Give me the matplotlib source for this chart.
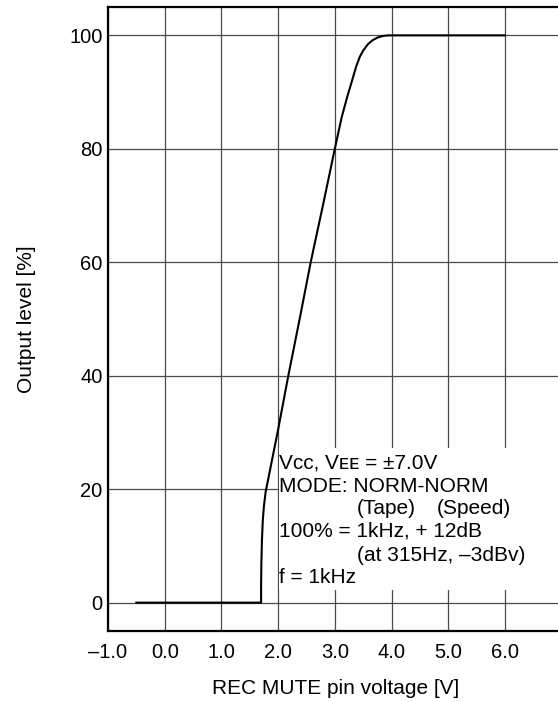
import matplotlib
matplotlib.use("Agg")
import matplotlib.pyplot as plt
from matplotlib.patches import Rectangle

plt.rcParams['font.family'] = ['Liberation Sans', 'DejaVu Sans']

# Data
voltage = [-0.5, 1.70, 1.70, 1.705, 1.715, 1.73, 1.75, 1.78, 1.82, 2.0, 2.18, 2.38,
           2.575, 2.79, 3.0, 3.12, 3.22, 3.28, 3.33, 3.38, 3.44, 3.50, 3.58, 3.66,
           3.75, 3.85, 3.95, 6.0]
level = [0, 0, 3, 7, 11, 14.5, 17, 19.5, 21.5, 30.5, 40, 50,
         60, 70, 80, 85.5, 89.2, 91.2, 92.9, 94.6, 96.2, 97.3, 98.4, 99.1,
         99.6, 99.9, 100, 100]

x_ticks = [-1, 0, 1, 2, 3, 4, 5, 6]
x_tick_labels = ["\u20131.0", "0.0", "1.0", "2.0", "3.0", "4.0", "5.0", "6.0"]
y_ticks = [0, 20, 40, 60, 80, 100]
y_tick_labels = ["0", "20", "40", "60", "80", "100"]

fig = plt.figure(figsize=(5.58, 7.02), dpi=100)
ax = fig.add_axes([108/558, 71/702, 453.6/558, 624/702])

ax.set_xlim(-1, 7)
ax.set_ylim(-5, 105)

ax.set_xticks(list(range(-1, 8)))
ax.set_xticklabels(x_tick_labels + [""])
ax.set_yticks(y_ticks)
ax.set_yticklabels(y_tick_labels)
ax.tick_params(length=0, labelsize=14.5, colors='black')
ax.tick_params(axis='x', pad=9)
ax.tick_params(axis='y', pad=4)

ax.grid(True, color='#4a4a4a', linewidth=0.9)
ax.set_axisbelow(True)

for s in ['left', 'top', 'bottom']:
    ax.spines[s].set_linewidth(1.6)
    ax.spines[s].set_color('black')
ax.spines['right'].set_visible(False)

ax.plot(voltage, level, color='black', linewidth=1.5, zorder=3,
        solid_joinstyle='round')

ax.add_patch(Rectangle((2.015, 2.3), 5.5, 25.0, facecolor='white',
                       edgecolor='none', zorder=2))

fs = 15
ys = [23.6, 19.5, 15.7, 11.6, 7.4, 3.4]
x0 = 2.02
x_ind = 3.385
ax.text(x0, ys[0], "V\u1d04\u1d04, V\u1d07\u1d07 = \u00b17.0V", fontsize=fs,
        va='baseline', ha='left', zorder=4)
ax.text(x0, ys[1], "MODE: NORM-NORM", fontsize=fs, va='baseline', ha='left', zorder=4)
ax.text(x_ind, ys[2], "(Tape)", fontsize=fs, va='baseline', ha='left', zorder=4)
ax.text(4.795, ys[2], "(Speed)", fontsize=fs, va='baseline', ha='left', zorder=4)
ax.text(x0, ys[3], "100% = 1kHz, + 12dB", fontsize=fs, va='baseline', ha='left', zorder=4)
ax.text(x_ind, ys[4], "(at 315Hz, \u20133dBv)", fontsize=fs, va='baseline', ha='left', zorder=4)
ax.text(x0, ys[5], "f = 1kHz", fontsize=fs, va='baseline', ha='left', zorder=4)

ax.set_xlabel("REC MUTE pin voltage [V]", fontsize=15, labelpad=12)
ax.set_ylabel("Output level [%]", fontsize=15, labelpad=24)
ax.xaxis.label.set_position(((336 - 108) / 453.6, 0))

fig.savefig("out.png", dpi=100)
